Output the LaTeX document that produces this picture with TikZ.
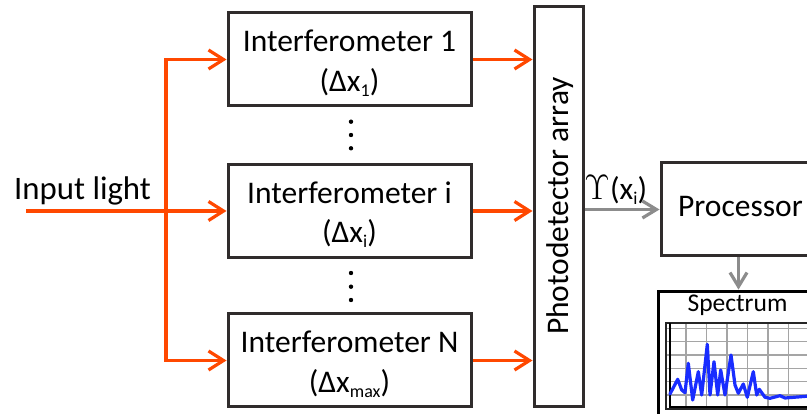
\documentclass[tikz,border=0pt]{standalone}
\usepackage[no-math]{fontspec}
\setmainfont{Carlito}
\usetikzlibrary{arrows.meta}
\definecolor{oline}{RGB}{255,72,0}
\definecolor{boxc}{RGB}{48,44,44}
\definecolor{garrc}{RGB}{140,140,140}
\definecolor{gridc}{RGB}{165,165,165}
\definecolor{specc}{RGB}{25,45,255}
\newcommand{\lowsub}[1]{\raisebox{-5pt}{\fontsize{18}{18}\selectfont #1}}
\begin{document}
\begin{tikzpicture}[x=1pt,y=-1pt,
  font=\fontsize{31.5}{36}\selectfont,
  ibox/.style={draw=boxc,line width=3pt,minimum width=243pt,minimum height=93pt,inner sep=0pt},
  pbox/.style={draw=boxc,line width=3pt,inner sep=0pt},
  sbox/.style={draw=black,line width=3.8pt,inner sep=0pt},
  txt/.style={anchor=base,inner sep=0pt},
  oarr/.style={draw=oline,line width=3.2pt,-{Straight Barb[length=15pt,width=19pt]}},
  garr/.style={draw=garrc,line width=3.2pt,-{Straight Barb[length=14pt,width=17pt]}},
  dot/.style={fill=black,circle,inner sep=0pt,minimum size=4.4pt}]
\useasboundingbox (0,0) rectangle (807,414);
\clip (0,0) rectangle (807,414);
\fill[white] (0,0) rectangle (807,414);

% interferometers
\node[ibox] (int1) at (349.5,59.5) {};
\node[txt] (int1a) at (349.5,52) {Interferometer 1};
\node[txt] (int1b) at (349.5,91.5) {(Δx\lowsub{1})};
\node[ibox] (inti) at (349.5,211) {};
\node[txt] (intia) at (349.5,203.5) {Interferometer i};
\node[txt] (intib) at (349.5,243) {(Δx\lowsub{i})};
\node[ibox] (intN) at (349.5,360.5) {};
\node[txt] (intNa) at (349.5,353) {Interferometer N};
\node[txt] (intNb) at (349.5,392.5) {(Δx\lowsub{max})};

% dots
\node[dot] (d1) at (351,121.7) {};
\node[dot] (d2) at (351,135) {};
\node[dot] (d3) at (351,148.3) {};
\node[dot] (d4) at (351,273) {};
\node[dot] (d5) at (351,286.7) {};
\node[dot] (d6) at (351,300) {};

% input light
\node[anchor=base west,inner sep=0pt,font=\fontsize{32.8}{36}\selectfont] (inlab) at (14,199.5) {Input light};
\coordinate (inp) at (26,211);
\coordinate (bus) at (166,211);
\draw[oarr] (inp) -- (inti.west);
\draw[oarr] (bus) |- (int1.west);
\draw[oarr] (bus) |- (intN.west);

% photodetector
\node[pbox,minimum width=49pt,minimum height=400pt] (pd) at (558.5,207) {};
\node[rotate=90,anchor=base,inner sep=0pt] (pdt) at (568,206) {Photodetector array};
\draw[oarr] (int1.east) -- (int1.east -| pd.west);
\draw[oarr] (inti.east) -- (inti.east -| pd.west);
\draw[oarr] (intN.east) -- (intN.east -| pd.west);

% processor
\node[pbox,minimum width=160pt,minimum height=93pt] (proc) at (741,209.5) {};
\node[txt] (proct) at (740.5,217) {Processor};
\draw[garr] (proc.west -| pd.east) -- (proc.west);
\node[anchor=base west,inner sep=0pt,font=\fontsize{24.88}{30}\selectfont,scale=1.42,transform shape] (ups) at (584,200) {$\Upsilon$};
\node[anchor=base west,inner sep=0pt] (upsx) at (ups.base east) {(x\lowsub{i})};

% spectrum
\node[sbox,minimum width=160pt,minimum height=140pt] (spec) at (738.5,361.5) {};
\draw[garr] (spec.north |- proc.south) -- (spec.north);
\node[txt,font=\fontsize{25.5}{30}\selectfont] (spect) at (737.5,312) {Spectrum};
\foreach \x in {686,706.5,727,747.5,768,788.5}
  \draw[gridc,line width=1.4pt] (\x,323) -- (\x,409);
\foreach \y in {328.3,341.6,355,368.3,381.6,394.9}
  \draw[gridc,line width=1.4pt] (666,\y) -- (830,\y);
\draw[black!85,line width=1.4pt] (666,323) rectangle (830,409);
\draw[black,line width=2.2pt] (670,323) -- (670,406.7) -- (830,406.7);
\draw[specc,line width=3.2pt,line join=round,line cap=round]
  (670,394) -- (677.7,379.3) -- (681.7,390) -- (685,392.7) -- (688.3,363.3) -- (692.7,400)
  -- (698.3,371.7) -- (701.7,395) -- (707.3,344.3) -- (710,395) -- (714,361.7) -- (717.7,395)
  -- (720.7,370) -- (725,395) -- (731,355) -- (735,385) -- (738.3,393.3) -- (743.3,384)
  -- (747.3,397.3) -- (753.3,371.7) -- (756.7,395) -- (759.3,389.3) -- (765,397.3)
  -- (770,398.3) -- (780,395.7) -- (785,398) -- (810,396);
\end{tikzpicture}
\end{document}
